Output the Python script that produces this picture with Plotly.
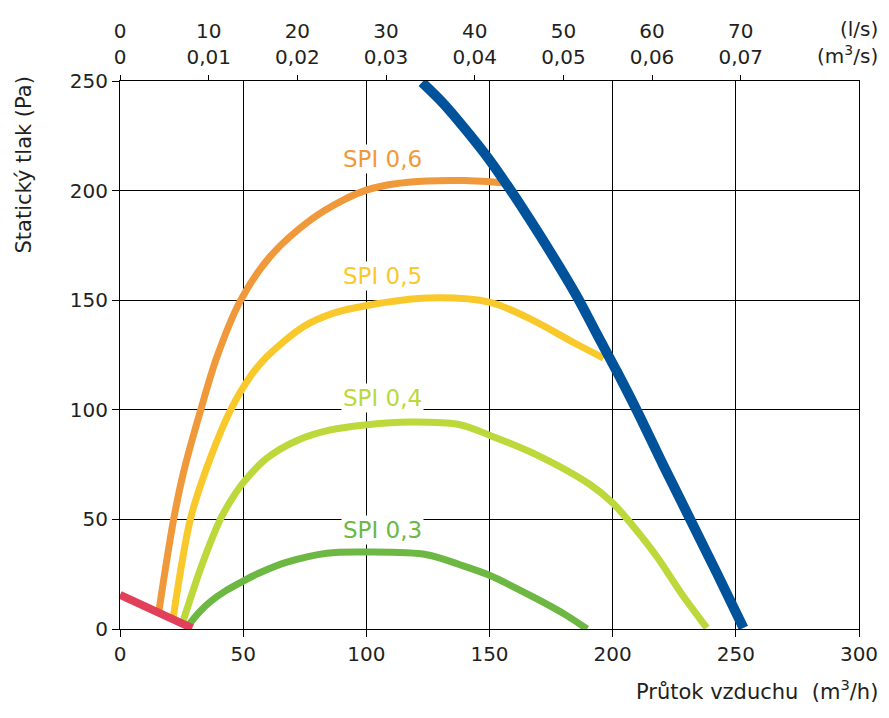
import plotly.graph_objects as go

# průtok (m3/h) a statický tlak (Pa)
spi06_x = [15.7, 21.8, 25.9, 32.7, 39.4, 48.9, 61, 77.3, 90.8, 100.3, 111, 124.6, 140, 150.3, 155.7]
spi06_y = [7.5, 50.2, 72, 99.7, 124.3, 149.8, 170, 186.6, 195.8, 200.3, 203, 204.4, 204.6, 204, 203.5]

spi05_x = [21.5, 28.6, 35.4, 44.8, 52.9, 59.7, 74.6, 87, 100.3, 124.6, 150.3, 167.9, 184.1, 196.3]
spi05_y = [4.5, 50.2, 74.1, 99.7, 115.2, 124.3, 138, 144.2, 147.6, 151, 149, 140.7, 130.7, 123.6]

spi04_x = [25.3, 33.5, 40.8, 45.5, 50.2, 59.7, 71.9, 85, 100.3, 117.8, 138, 150, 167.9, 190.9, 200, 208.4, 217.9, 228.7, 238.2]
spi04_y = [2.5, 30, 50.2, 59.5, 67, 78, 86, 90.7, 93.2, 94.4, 93.2, 88.4, 80.1, 65.8, 57.5, 46.8, 33.1, 14.9, 0.5]

spi03_x = [28, 32, 36.7, 43, 50.2, 57, 67.8, 84, 100.3, 124.6, 138, 150, 167.9, 181.4, 189.6]
spi03_y = [2, 7.5, 12.5, 17.5, 22, 25.8, 30.5, 34.6, 35.1, 33.9, 29.3, 24.5, 14.5, 6.1, 0]

max_x = [122.6, 131.4, 140.9, 150, 157.1, 165.2, 174.6, 185.5, 193.6, 201.7, 209.8, 220.6, 231.4, 242.3, 253.1]
max_y = [249.4, 239.6, 227, 214, 202.6, 188.9, 172.2, 151.7, 134.5, 117.5, 99.7, 74.6, 50.2, 25.5, 0.5]

min_x = [0, 29.3]
min_y = [15.6, 0.4]

labels = ['SPI 0,6', 'SPI 0,5', 'SPI 0,4', 'SPI 0,3']
label_y = [214.5, 161, 105.3, 45.3]

ls_ticks = [0, 10, 20, 30, 40, 50, 60, 70]
m3s_ticks = ['0', '0,01', '0,02', '0,03', '0,04', '0,05', '0,06', '0,07']

c06 = '#F0993A'
c05 = '#F9C92B'
c04 = '#BDD83A'
c03 = '#6DB843'
cmax = '#00529B'
cmin = '#E2405A'
txt = '#231F20'
font = 'DejaVu Sans'

data = [
    go.Scatter(x=spi06_x, y=spi06_y, mode='lines', line=dict(color=c06, width=7, shape='spline', smoothing=0.9)),
    go.Scatter(x=spi05_x, y=spi05_y, mode='lines', line=dict(color=c05, width=7, shape='spline', smoothing=0.9)),
    go.Scatter(x=spi04_x, y=spi04_y, mode='lines', line=dict(color=c04, width=7, shape='spline', smoothing=0.9)),
    go.Scatter(x=spi03_x, y=spi03_y, mode='lines', line=dict(color=c03, width=7, shape='spline', smoothing=0.9)),
    go.Scatter(x=max_x, y=max_y, mode='lines', line=dict(color=cmax, width=10, shape='spline', smoothing=1)),
    go.Scatter(x=min_x, y=min_y, mode='lines', line=dict(color=cmin, width=8)),
    # neviditelná stopa, aby se zobrazila horní osa
    go.Scatter(x=[0], y=[0], xaxis='x2', mode='markers', marker=dict(opacity=0), hoverinfo='skip'),
]

ann = []
for t, yy, c in zip(labels, label_y, [c06, c05, c04, c03]):
    ann.append(dict(x=106.5, y=yy, xref='x', yref='y', text=t, showarrow=False,
                    font=dict(family=font, size=23, color=c), bgcolor='white', borderpad=1))

# stránka má okraj 8 px, proto je obrázek o 16 px menší
ann.append(dict(x=1.0284, y=1.0949, xref='paper', yref='paper', text='(l/s)', showarrow=False,
                xanchor='right', yanchor='middle', font=dict(family=font, size=20, color=txt)))
ann.append(dict(x=1.0284, y=1.0474, xref='paper', yref='paper', text='(m<sup>3</sup>/s)', showarrow=False,
                xanchor='right', yanchor='middle', font=dict(family=font, size=20, color=txt)))
ann.append(dict(x=1.0284, y=-0.1113, xref='paper', yref='paper',
                text='Průtok vzduchu\u00a0 (m<sup>3</sup>/h)',
                showarrow=False, xanchor='right', yanchor='middle', font=dict(family=font, size=21, color=txt)))
ann.append(dict(x=-0.1299, y=1.011, xref='paper', yref='paper', text='Statický tlak (Pa)', textangle=-90,
                showarrow=False, xanchor='center', yanchor='top', font=dict(family=font, size=21, color=txt)))

layout = go.Layout(
    width=873, height=702,
    margin=dict(l=112, r=22, t=73, b=81, autoexpand=False),
    paper_bgcolor='white', plot_bgcolor='white',
    showlegend=False,
    font=dict(family=font, size=20, color=txt),
    xaxis=dict(range=[0, 300], tickvals=[0, 50, 100, 150, 200, 250, 300],
               showgrid=True, gridcolor='black', gridwidth=1.2,
               showline=True, linecolor='black', linewidth=1.2,
               ticks='outside', ticklen=7, tickcolor='black', tickwidth=1.2,
               zeroline=False, fixedrange=True, automargin=False),
    yaxis=dict(range=[0, 250], tickvals=[0, 50, 100, 150, 200, 250],
               showgrid=True, gridcolor='black', gridwidth=1.2,
               showline=True, linecolor='black', linewidth=1.2, mirror=True,
               ticks='outside', ticklen=7, tickcolor='black', tickwidth=1.2,
               zeroline=False, fixedrange=True, automargin=False),
    xaxis2=dict(overlaying='x', side='top', range=[0, 300 / 3.6],
                tickvals=ls_ticks,
                ticktext=[f'{a}<br>{b}' for a, b in zip(ls_ticks, m3s_ticks)],
                showgrid=False, showline=True, linecolor='black', linewidth=1.2,
                ticks='outside', ticklen=5, tickcolor='black', tickwidth=1.2,
                ticklabelstandoff=3,
                zeroline=False, fixedrange=True, automargin=False),
    annotations=ann,
)

fig = go.Figure(data=data, layout=layout)
fig.write_html("out.html")
